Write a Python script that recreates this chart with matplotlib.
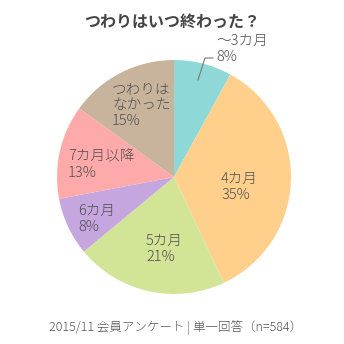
import matplotlib.pyplot as plt

plt.rcParams['font.family'] = ['Noto Sans CJK JP', 'DejaVu Sans']

labels = ['～3カ月', '4カ月', '5カ月', '6カ月', '7カ月以降', 'つわりは\nなかった']
values = [8, 35, 21, 8, 13, 15]
colors = ['#8ED9D7', '#FFD08C', '#D2E596', '#C5A6DF', '#FFAAAA', '#C8B49C']

# label anchor points (pixels from top-left), left aligned
label_pos = [(216, 49), (221, 187), (146, 249), (78, 219), (68, 165), (112, 105)]

fig = plt.figure(figsize=(3.44, 3.44), dpi=100)
ax = fig.add_axes([0, 0, 1, 1])
ax.axis('off')

cx, cy, r = 174, 177, 117
ax.pie(values, colors=colors, startangle=90, counterclock=False,
       center=(cx, -cy), radius=r, wedgeprops=dict(linewidth=0))
# pie draws in y-up coords, so y values are negated
ax.set_aspect('equal')
ax.set_xlim(0, 344)
ax.set_ylim(-344, 0)

txt_color = '#4e4e4e'
for lab, v, (x, y) in zip(labels, values, label_pos):
    ax.text(x, -y, f'{lab}\n{v}%', ha='left', va='center', fontsize=10.5,
            fontweight='light', color=txt_color, linespacing=1.2)

# leader line for the smallest slice
ax.plot([198, 205, 213], [-80, -58, -58], color='#777777', lw=0.8)

ax.text(172, -22, 'つわりはいつ終わった？', ha='center', va='center',
        fontsize=11.5, fontweight='bold', color='#444444')
ax.text(176, -327, '2015/11 会員アンケート | 単一回答（n=584）', ha='center',
        va='center', fontsize=9, fontweight='light', color='#555555')

fig.savefig('out.png', dpi=100)
